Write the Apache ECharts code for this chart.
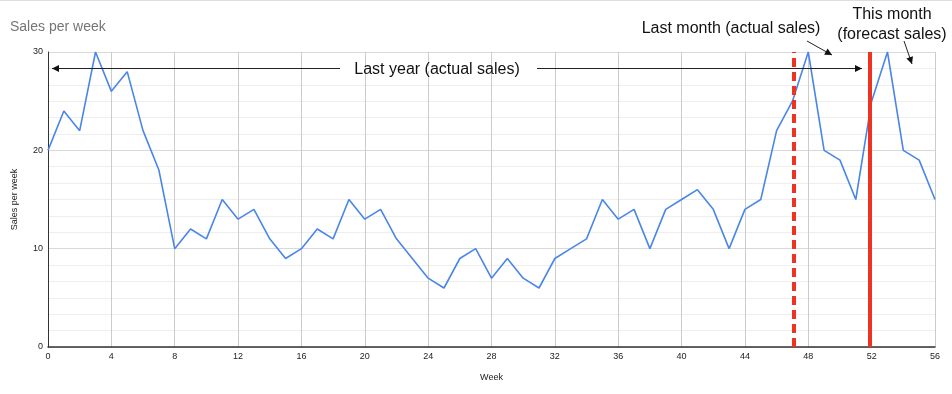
<!DOCTYPE html>
<html>
<head>
<meta charset="utf-8">
<script src="https://cdn.jsdelivr.net/npm/echarts@6/dist/echarts.min.js"></script>
<style>
html,body{margin:0;padding:0;background:#fff;}
#c{width:952px;height:394px;}
</style>
</head>
<body>
<div id="c"></div>
<script>
const weeks = [0,1,2,3,4,5,6,7,8,9,10,11,12,13,14,15,16,17,18,19,20,21,22,23,24,25,26,27,28,29,30,31,32,33,34,35,36,37,38,39,40,41,42,43,44,45,46,47,48,49,50,51,52,53,54,55,56];
const sales = [20,24,22,30,26,28,22,18,10,12,11,15,13,14,11,9,10,12,11,15,13,14,11,9,7,6,9,10,7,9,7,6,9,10,11,15,13,14,10,14,15,16,14,10,14,15,22,25,30,20,19,15,25,30,20,19,15];
const lastMonthStart = 47.1;
const thisMonthStart = 51.85;
const xTicks = {min:0, max:56, interval:4};
const yTicks = {min:0, max:30, interval:10};

const chart = echarts.init(document.getElementById('c'), null, {renderer:'canvas'});
const FONT = '"Liberation Sans", Arial, sans-serif';
const RED = '#ee3322';

function arrowHead(x1,y1,x2,y2,len,half){
  const a = Math.atan2(y2-y1,x2-x1);
  const bx = x2 - len*Math.cos(a), by = y2 - len*Math.sin(a);
  const px = -Math.sin(a)*half, py = Math.cos(a)*half;
  return {type:'polygon', shape:{points:[[x2,y2],[bx+px,by+py],[bx-px,by-py]]}, style:{fill:'#111'}, silent:true, z:10};
}
function seg(x1,y1,x2,y2){
  return {type:'line', shape:{x1,y1,x2,y2}, style:{stroke:'#222', lineWidth:1}, silent:true, z:10};
}
function txt(x,y,t,align){
  return {type:'text', x, y, style:{text:t, fill:'#111', font:'16px '+FONT, align:align||'center', verticalAlign:'middle'}, silent:true, z:10};
}

chart.setOption({
  animation:false,
  backgroundColor:'#fff',
  title:{text:'Sales per week', left:5, top:15, textStyle:{color:'#757575', fontSize:14, fontWeight:'normal', fontFamily:FONT}},
  grid:{left:48, right:17, top:52, bottom:47, containLabel:false, outerBoundsMode:'none'},
  xAxis:{
    type:'value', min:xTicks.min, max:xTicks.max, interval:xTicks.interval,
    name:'Week', nameLocation:'middle', nameGap:26,
    nameTextStyle:{color:'#222', fontSize:9, fontFamily:FONT},
    axisLine:{show:true, lineStyle:{color:'#333', width:1.5}},
    axisTick:{show:false},
    axisLabel:{color:'#222', fontSize:9, fontFamily:FONT, margin:5},
    splitLine:{show:true, lineStyle:{color:'#cccccc', width:1}}
  },
  yAxis:{
    type:'value', min:yTicks.min, max:yTicks.max, interval:yTicks.interval,
    name:'Sales per week', nameLocation:'middle', nameGap:29,
    nameTextStyle:{color:'#222', fontSize:9, fontFamily:FONT},
    axisLine:{show:true, lineStyle:{color:'#333', width:1}},
    axisTick:{show:false},
    axisLabel:{color:'#222', fontSize:9, fontFamily:FONT, margin:5},
    splitLine:{show:true, lineStyle:{color:'#d9d9d9', width:1}},
    minorTick:{show:false, splitNumber:6},
    minorSplitLine:{show:true, lineStyle:{color:'#eeeeee', width:1}}
  },
  series:[{
    type:'line',
    data: weeks.map((w,i)=>[w, sales[i]]),
    showSymbol:false,
    symbol:'none',
    lineStyle:{color:'#4a86e8', width:1.6},
    itemStyle:{color:'#4a86e8'},
    markLine:{
      silent:true, symbol:['none','none'], label:{show:false},
      data:[
        {xAxis:lastMonthStart, lineStyle:{color:RED, width:4, type:[9,5]}},
        {xAxis:thisMonthStart, lineStyle:{color:RED, width:4, type:'solid'}}
      ]
    },
    z:3
  }],
  graphic:[
    {type:'line', shape:{x1:0,y1:0.5,x2:952,y2:0.5}, style:{stroke:'#dddddd', lineWidth:1}, silent:true},
    {type:'rect', shape:{x:340,y:66,width:197,height:5}, style:{fill:'#fff'}, silent:true, z:9},
    seg(52,68.5,340,68.5), arrowHead(340,68.5,52,68.5,7,3.5),
    seg(537,68.5,862,68.5), arrowHead(537,68.5,862,68.5,7,3.5),
    txt(437,70,'Last year (actual sales)'),
    txt(731,29,'Last month (actual sales)'),
    seg(807,41,832,55), arrowHead(807,41,832,55,7,3.5),
    txt(892,15,'This month'),
    txt(892,35,'(forecast sales)'),
    seg(904,41,912,64), arrowHead(904,41,912,64,7,3.5)
  ]
});
</script>
</body>
</html>
